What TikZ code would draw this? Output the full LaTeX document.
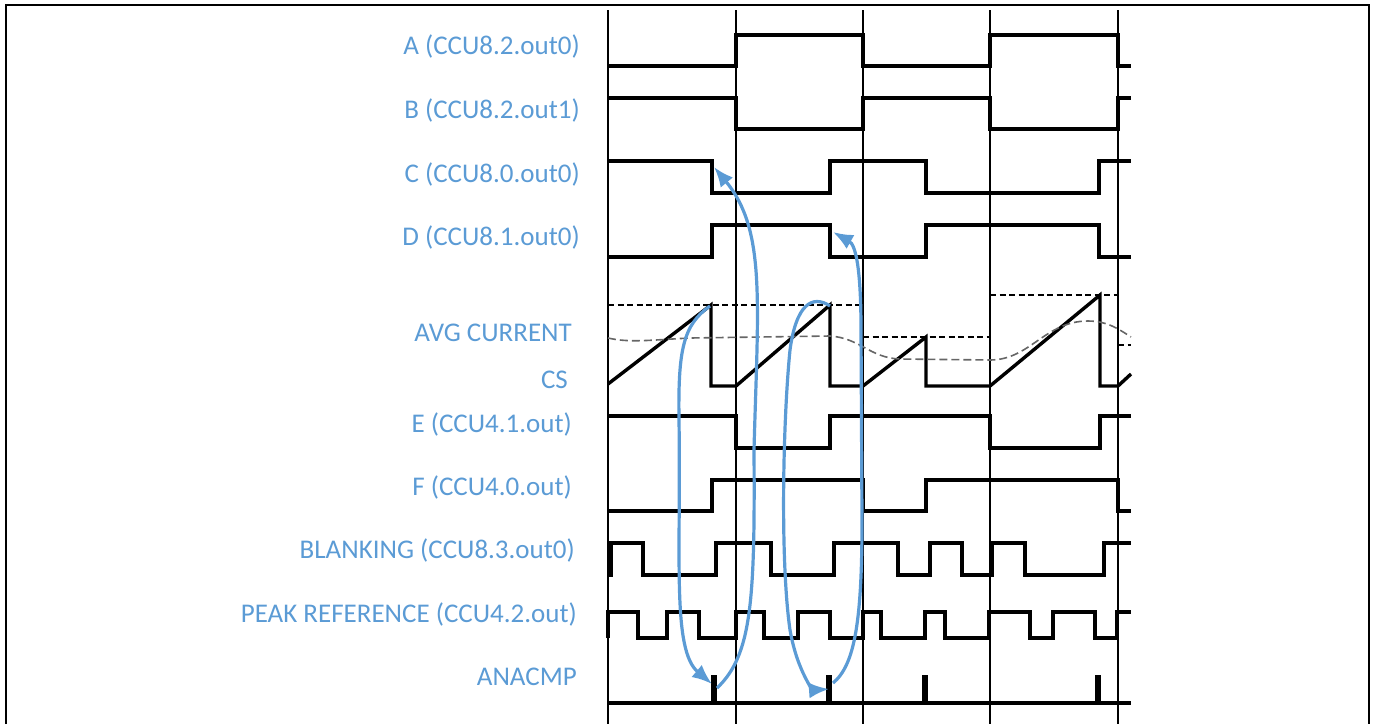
\documentclass[tikz,border=0pt]{standalone}
\usepackage{fontspec}
\setmainfont{Carlito}
\usetikzlibrary{arrows.meta}
\definecolor{lblblue}{HTML}{5B9BD5}
\tikzset{signame/.style={anchor=base east,inner sep=0pt,text=lblblue,font=\fontsize{27}{30}\selectfont},
  wave/.style={line width=3.4pt},
  gline/.style={line width=1.1pt},
  pkref/.style={dash pattern=on 6pt off 3.5pt,line width=1.3pt},
  avg/.style={black!60,dash pattern=on 8pt off 4pt,line width=1.6pt},
  cause/.style={lblblue,line width=3.2pt,-{Latex[length=20pt,width=16pt]}}}
\newcommand{\signame}[3]{\node[signame] (#2) at (#1) {#3}}

\begin{document}
\begin{tikzpicture}[x=1pt,y=-1pt]
  \useasboundingbox (0,0) rectangle (1373,724);
  \draw[line width=2.6pt] (6,724) -- (6,5) -- (1369,5) -- (1369,724);

  \signame{580,54}{a}{A (CCU8.2.out0)};
  \signame{580,118}{b}{B (CCU8.2.out1)};
  \signame{580,182}{c}{C (CCU8.0.out0)};
  \signame{580,245}{d}{D (CCU8.1.out0)};
  \signame{572,341}{avg}{AVG CURRENT};
  \signame{568,388}{cs}{CS};
  \signame{572,432}{e}{E (CCU4.1.out)};
  \signame{572,495}{f}{F (CCU4.0.out)};
  \signame{575,558}{blank}{BLANKING (CCU8.3.out0)};
  \signame{577,622}{peak}{PEAK REFERENCE (CCU4.2.out)};
  \signame{577,685}{cmp}{ANACMP};

  \foreach \x in {608,736,863,990,1118}
    \draw[gline] (\x,10) -- (\x,724);

  \draw[wave] (608,66) -| (736,35) -| (863,66) -| (990,35) -| (1118,66) -- (1131,66);
  \draw[wave] (608,98) -| (736,129) -| (863,98) -| (990,129) -| (1118,98) -- (1131,98);
  \draw[wave] (608,161) -| (712,193) -| (830,161) -| (926,193) -| (1099,161) -- (1131,161);
  \draw[wave] (608,257) -| (712,225) -| (830,257) -| (926,225) -| (1099,257) -- (1131,257);
  \draw[wave] (608,384) -- (711,305) -- (711,386) -- (736,386) -- (830,305) -- (830,386)
    -- (863,386) -- (926,337) -- (926,386) -- (990,386) -- (1100,295) -- (1100,386)
    -- (1118,386) -- (1131,374);
  \draw[wave] (608,416) -| (736,448) -| (830,416) -| (990,448) -| (1100,416) -- (1131,416);
  \draw[wave] (608,511) -| (712,480) -| (863,511) -| (926,480) -| (1118,511) -- (1131,511);
  \draw[wave] (608,575) -| (611,543) -| (643,575) -| (716,543) -| (771,575) -| (834,543)
    -| (898,575) -| (930,543) -| (962,575) -| (992,543) -| (1025,575) -| (1104,543) -- (1131,543);
  \draw[wave] (608,638) -- (608,612) -| (638,638) -| (667,612) -| (699,638) -| (736,612)
    -| (764,638) -| (798,612) -| (830,638) -| (863,612) -| (881,638) -| (925,612)
    -| (945,638) -| (989,612) -| (1030,638) -| (1053,612) -| (1095,638) -| (1117,612) -- (1131,612);
  \draw[wave] (608,703) -| (713,677) -| (715,703) -| (828,677) -| (830,703) -| (924,677)
    -| (926,703) -| (1097,677) -| (1099,703) -- (1131,703);

  \draw[pkref] (608,305) -- (863,305) (863,337) -- (990,337) (990,295) -- (1118,295)
    (1118,345) -- (1131,345);
  \draw[avg] (608,338) .. controls (630,343) and (650,340) .. (690,338) -- (830,336)
    .. controls (860,338) and (870,358) .. (900,359) -- (990,360)
    .. controls (1030,360) and (1045,321) .. (1088,321)
    .. controls (1108,321) and (1120,330) .. (1131,337);

  \coordinate (cfall) at (714,167);
  \coordinate (dfall) at (833,232);
  \coordinate (pk1) at (710,306);
  \coordinate (pk2) at (830,306);
  \coordinate (cmp1in) at (712,684);
  \coordinate (cmp1out) at (717,688);
  \coordinate (cmp2in) at (829,689);
  \coordinate (cmp2out) at (833,683);

  \draw[cause] (cmp1out) .. controls (752,655) and (755,600) .. (754,450)
    .. controls (758,300) and (766,230) .. (cfall);
  \draw[cause] (pk1) .. controls (683,325) and (678,350) .. (679,420)
    .. controls (681,560) and (672,650) .. (cmp1in);
  \draw[cause] (pk2) .. controls (812,294) and (796,305) .. (790,350)
    .. controls (783,420) and (780,560) .. (790,630)
    .. controls (798,675) and (815,690) .. (cmp2in);
  \draw[cause] (cmp2out) .. controls (855,665) and (862,620) .. (862,520)
    -- (861,330) .. controls (861,270) and (856,245) .. (dfall);
\end{tikzpicture}
\end{document}
